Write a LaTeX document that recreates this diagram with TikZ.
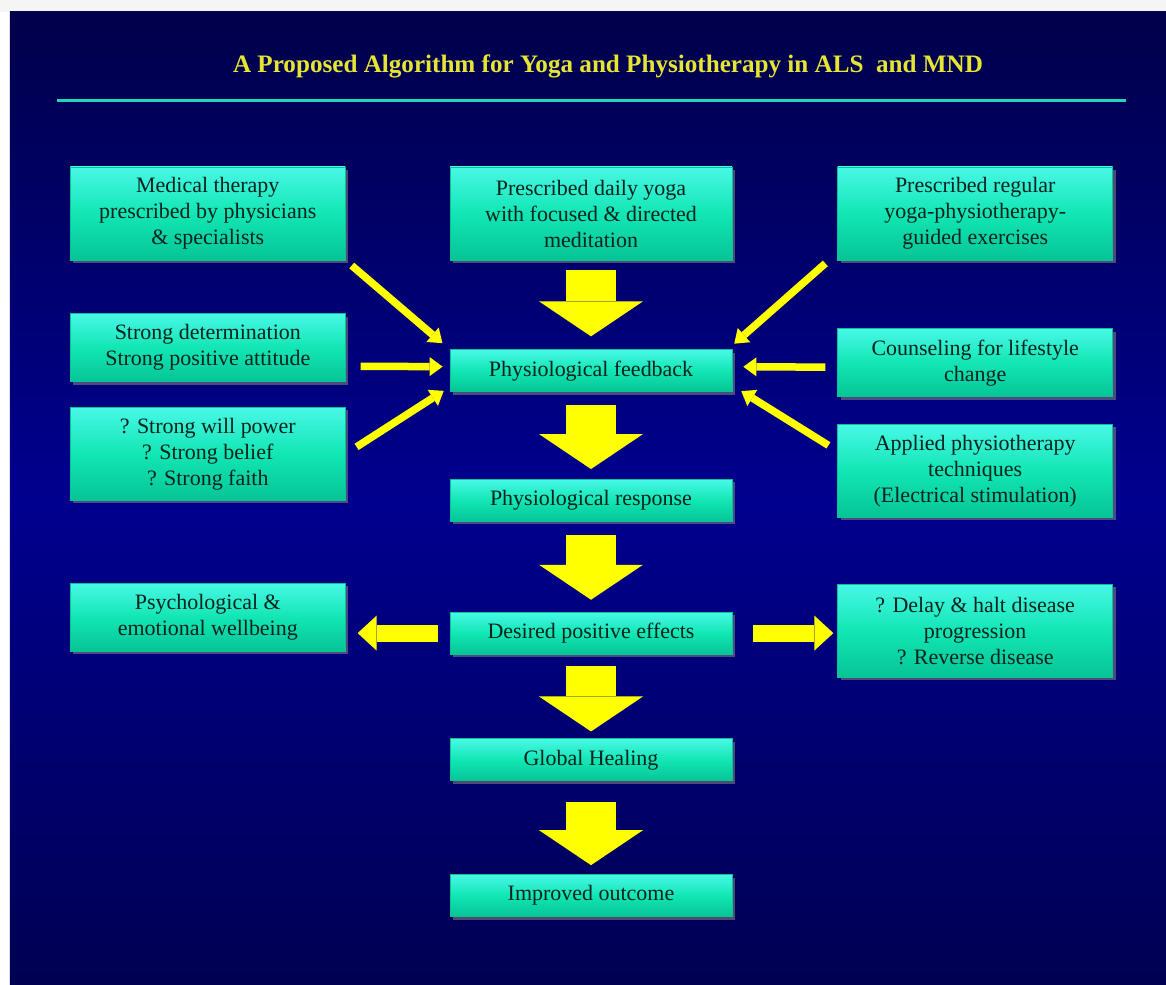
\documentclass[tikz,border=0pt]{standalone}
\usepackage{fontspec}
\setmainfont{Liberation Serif}
\usetikzlibrary{positioning,calc,arrows.meta,shadows}
\definecolor{bgtop}{HTML}{00004A}
\definecolor{bgmid}{HTML}{00008E}
\definecolor{bgbot}{HTML}{000052}
\definecolor{boxtop}{HTML}{48F8E6}
\definecolor{boxmid}{HTML}{12E6B4}
\definecolor{boxbot}{HTML}{06C496}
\definecolor{boxtext}{HTML}{08231D}
\definecolor{titlecolor}{HTML}{E6E632}
\definecolor{rulecolor}{HTML}{22D6B8}
\definecolor{arrowcolor}{HTML}{FFFF00}

\begin{document}
\begin{tikzpicture}[
    box/.style={rectangle, draw=boxbot, top color=boxtop, bottom color=boxbot, middle color=boxmid, text=boxtext, font=\fontsize{12.5}{14.8}\selectfont, align=center, inner sep=0pt, drop shadow={opacity=0.6, shadow xshift=0.06cm, shadow yshift=-0.06cm}},
    wide/.style={minimum width=5.64cm},
    side/.style={minimum width=5.5cm},
    short/.style={minimum height=0.84cm},
    mid/.style={minimum height=1.36cm},
    tall/.style={minimum height=1.86cm},
    bigarrow/.style={draw=arrowcolor, line width=1cm, -{Triangle[length=0.7cm, width=2.08cm, line width=0pt]}},
    sidearrow/.style={draw=arrowcolor, line width=0.34cm, -{Triangle[length=0.38cm, width=0.7cm, line width=0pt]}},
    thinarrow/.style={draw=arrowcolor, line width=0.15cm, -{Triangle[length=0.26cm, width=0.38cm, line width=0pt]}}]
    \useasboundingbox (0,0) rectangle (23.32,-19.7);
    % Bakgrund
    \fill [white] (0,0) rectangle (23.32,-19.7);
    \fill [gray!8] (0,0) rectangle (23.32,-0.24);
    \fill [top color=bgtop, bottom color=bgbot, middle color=bgmid] (0.2,-0.24) rectangle (23.32,-19.7);
    \node (title) [font=\fontsize{14.3}{16}\selectfont\bfseries, text=titlecolor] at (12.16,-1.33) {A Proposed Algorithm for Yoga and Physiotherapy in ALS\ \ and MND};
    \draw [rulecolor, line width=0.06cm] (1.14,-2.02) -- (22.52,-2.02);
    % Noder
    \node (yoga) [box, wide, tall] at (11.82,-4.27) {Prescribed daily yoga\\with focused \& directed\\meditation};
    \node (fb) [box, wide, short, below=1.78cm of yoga] {Physiological feedback};
    \node (resp) [box, wide, short, below=1.74cm of fb] {Physiological response};
    \node (effects) [box, wide, short, below=1.8cm of resp] {Desired positive effects};
    \node (heal) [box, wide, short, below=1.68cm of effects] {Global Healing};
    \node (outcome) [box, wide, short, below=1.86cm of heal] {Improved outcome};

    \node (medical) [box, side, tall, left=2.08cm of yoga] {Medical therapy\\prescribed by physicians\\\& specialists};
    \node (resolve) [box, side, mid, below=1.06cm of medical] {Strong determination\\Strong positive attitude};
    \node (will) [box, side, tall, below=0.5cm of resolve] {? Strong will power\\? Strong belief\\? Strong faith};
    \node (mind) [box, side, mid, below=1.64cm of will] {Psychological \&\\emotional wellbeing};

    \node (exercise) [box, side, tall, right=2.1cm of yoga] {Prescribed regular\\yoga-physiotherapy-\\guided exercises};
    \node (counsel) [box, side, mid, below=1.36cm of exercise] {Counseling for lifestyle\\change};
    \node (physio) [box, side, tall, below=0.54cm of counsel] {Applied physiotherapy\\techniques\\(Electrical stimulation)};
    \node (disease) [box, side, tall, below=1.32cm of physio] {? Delay \& halt disease\\progression\\? Reverse disease};
    % Pilarna
    \draw [bigarrow, shorten <=0.2cm, shorten >=0.26cm] (yoga) -- (fb);
    \draw [bigarrow, shorten <=0.26cm, shorten >=0.2cm] (fb) -- (resp);
    \draw [bigarrow, shorten <=0.26cm, shorten >=0.24cm] (resp) -- (effects);
    \draw [bigarrow, shorten <=0.24cm, shorten >=0.14cm] (effects) -- (heal);
    \draw [bigarrow, shorten <=0.42cm, shorten >=0.18cm] (heal) -- (outcome);

    \draw [sidearrow, shorten <=0.24cm, shorten >=0.24cm] (effects.west) -- (effects.west -| mind.east);
    \draw [sidearrow, shorten <=0.42cm, shorten >=0.08cm] (effects.east) -- (effects.east -| disease.west);

    \draw [thinarrow, shorten <=0.16cm, shorten >=0.19cm] (medical.south east) -- (fb.north west);
    \draw [thinarrow, shorten <=0.3cm, shorten >=0.14cm] ([yshift=-0.37cm]resolve.east) -- ([yshift=0.08cm]fb.west);
    \draw [thinarrow, shorten <=0.26cm, shorten >=0.14cm] (will.east) -- ([yshift=0.1cm]fb.south west);
    \draw [thinarrow, shorten <=0.32cm, shorten >=0.05cm] ([yshift=0.15cm]exercise.south west) -- ([yshift=0.08cm]fb.north east);
    \draw [thinarrow, shorten <=0.24cm, shorten >=0.22cm] ([yshift=-0.09cm]counsel.west) -- ([yshift=0.08cm]fb.east);
    \draw [thinarrow, shorten <=0.21cm, shorten >=0.21cm] ([yshift=0.4cm]physio.west) -- ([yshift=0.13cm]fb.south east);
\end{tikzpicture}
\end{document}
